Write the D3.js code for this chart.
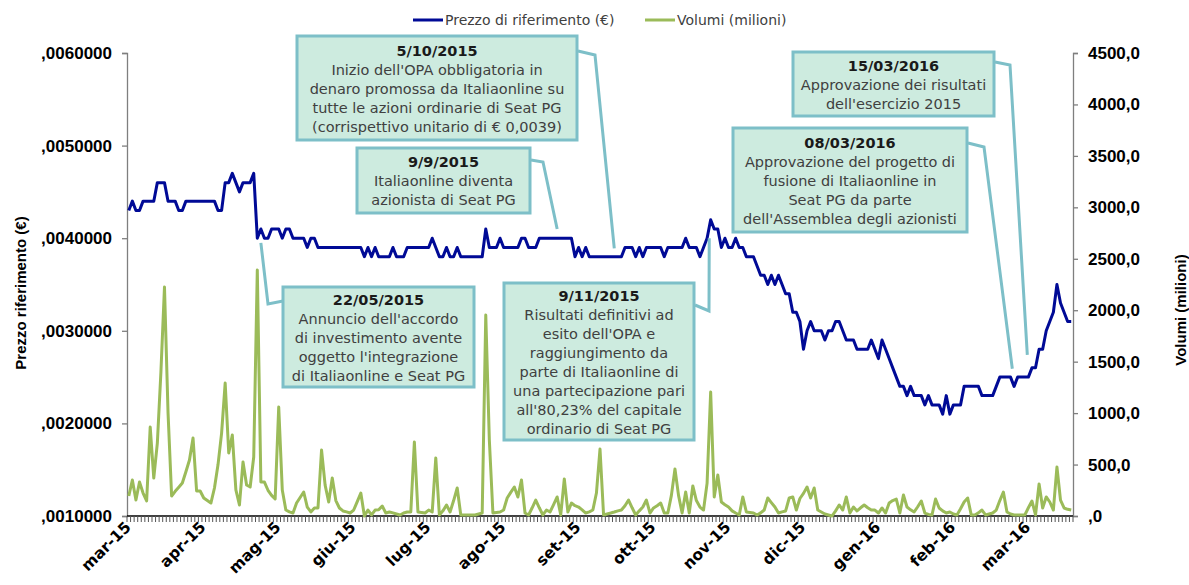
<!DOCTYPE html>
<html>
<head>
<meta charset="utf-8">
<script src="https://cdn.jsdelivr.net/npm/d3@7"></script>
<style>
  body { margin: 0; background: #fff; }
  svg { display: block; }
</style>
</head>
<body>
<div id="chart"></div>
<script>
// Prezzo di riferimento (€), one value per trading day (mar-15 .. mar-16)
const price = [
  0.0043,0.0044,0.0043,0.0043,0.0044,0.0044,0.0044,0.0044,0.0046,0.0046,
  0.0046,0.0044,0.0044,0.0044,0.0043,0.0043,0.0044,0.0044,0.0044,0.0044,
  0.0044,0.0044,0.0044,0.0044,0.0044,0.0043,0.0043,0.0046,0.0046,0.0047,
  0.0046,0.0045,0.0046,0.0046,0.0046,0.0047,0.0040,0.0041,0.0040,0.0040,
  0.0041,0.0041,0.0041,0.0040,0.0041,0.0041,0.0040,0.0040,0.0040,0.0040,
  0.0039,0.0040,0.0040,0.0039,0.0039,0.0039,0.0039,0.0039,0.0039,0.0039,
  0.0039,0.0039,0.0039,0.0039,0.0039,0.0039,0.0038,0.0039,0.0038,0.0039,
  0.0038,0.0038,0.0038,0.0038,0.0039,0.0038,0.0038,0.0038,0.0039,0.0039,
  0.0039,0.0039,0.0039,0.0039,0.0039,0.0040,0.0039,0.0038,0.0038,0.0039,
  0.0038,0.0038,0.0039,0.0038,0.0038,0.0038,0.0038,0.0038,0.0038,0.0038,
  0.0041,0.0039,0.0039,0.0039,0.0040,0.0039,0.0039,0.0039,0.0039,0.0039,
  0.0040,0.0040,0.0039,0.0039,0.0039,0.0040,0.0040,0.0040,0.0040,0.0040,
  0.0040,0.0040,0.0040,0.0040,0.0040,0.0038,0.0039,0.0038,0.0039,0.0038,
  0.0038,0.0038,0.0038,0.0038,0.0038,0.0038,0.0038,0.0038,0.0038,0.0039,
  0.0039,0.0039,0.0038,0.0039,0.0038,0.0039,0.0039,0.0039,0.0039,0.0039,
  0.0038,0.0039,0.0039,0.0039,0.0039,0.0039,0.0040,0.0039,0.0039,0.0039,
  0.0038,0.0039,0.0040,0.0042,0.0041,0.0041,0.0039,0.0040,0.0039,0.0039,
  0.0040,0.0039,0.0039,0.0038,0.0038,0.0038,0.0037,0.0036,0.0036,0.0035,
  0.0036,0.0035,0.0036,0.0035,0.0034,0.0034,0.0032,0.0032,0.0031,0.0028,
  0.0030,0.0031,0.0030,0.0030,0.0030,0.0029,0.0030,0.0030,0.0031,0.0031,
  0.0030,0.0029,0.0029,0.0029,0.0028,0.0028,0.0028,0.0028,0.0029,0.0028,
  0.0027,0.0029,0.0028,0.0027,0.0026,0.0025,0.0024,0.0024,0.0023,0.0024,
  0.0023,0.0023,0.0023,0.0022,0.0023,0.0022,0.0022,0.0022,0.0021,0.0023,
  0.0021,0.0022,0.0022,0.0022,0.0024,0.0024,0.0024,0.0024,0.0024,0.0023,
  0.0023,0.0023,0.0023,0.0024,0.0025,0.0025,0.0025,0.0025,0.0024,0.0025,
  0.0025,0.0025,0.0025,0.0026,0.0026,0.0028,0.0028,0.0030,0.0031,0.0032,
  0.0035,0.0033,0.0032,0.0031,0.0031
];

// Volumi (milioni), same trading days
const volume = [
  194,350,155,330,223,146,865,369,709,1400,
  2226,1000,194,240,280,320,430,544,758,243,
  243,175,150,126,272,500,806,1292,612,787,
  253,107,525,301,282,573,2390,330,330,250,
  200,165,1059,253,58,40,29,126,180,233,
  87,39,78,78,641,300,136,369,150,78,
  49,40,29,58,140,223,0,58,10,58,
  60,97,29,39,30,20,10,29,39,39,
  719,39,35,29,58,39,564,10,50,107,
  39,150,272,10,10,10,10,10,20,29,
  1953,739,30,35,39,58,175,230,282,185,
  350,29,10,80,155,80,10,58,39,110,
  185,10,360,39,126,100,87,60,29,40,
  58,223,651,10,20,29,39,50,58,100,
  155,80,10,50,87,155,29,78,100,126,
  29,29,200,457,200,29,233,29,292,150,
  87,58,320,1205,185,398,136,110,87,50,
  29,10,185,39,35,29,10,30,58,175,
  130,87,29,40,49,175,185,58,170,220,
  282,175,272,58,39,20,10,0,50,107,
  58,185,29,87,49,80,107,80,58,58,
  29,78,29,126,150,165,29,204,87,60,
  39,90,146,29,15,10,165,78,50,29,
  39,20,10,70,136,175,10,10,30,58,
  10,20,29,58,150,233,39,20,10,10,
  10,10,80,146,10,311,78,185,136,58,
  476,155,78,65,58
];

const monthTickIndex = [0, 21, 42, 63, 84, 105, 126, 147, 168, 189, 210, 231, 252];
const monthLabels = ["mar-15", "apr-15", "mag-15", "giu-15", "lug-15", "ago-15", "set-15",
  "ott-15", "nov-15", "dic-15", "gen-16", "feb-16", "mar-16"];
const priceTicks = [0.001, 0.002, 0.003, 0.004, 0.005, 0.006];
const volumeTicks = [0, 500, 1000, 1500, 2000, 2500, 3000, 3500, 4000, 4500];
const seriesNames = ["Prezzo di riferimento (€)", "Volumi (milioni)"];

// event notes: day index + price the leader points at
const noteTitles = ["5/10/2015", "9/9/2015", "22/05/2015", "9/11/2015", "15/03/2016", "08/03/2016"];
const noteLines = [
  ["Inizio dell'OPA obbligatoria in", "denaro promossa da Italiaonline su", "tutte le azioni ordinarie di Seat PG", "(corrispettivo unitario di € 0,0039)"],
  ["Italiaonline diventa", "azionista di Seat PG"],
  ["Annuncio dell'accordo", "di investimento avente", "oggetto l'integrazione", "di Italiaonline e Seat PG"],
  ["Risultati definitivi ad", "esito dell'OPA e", "raggiungimento da", "parte di Italiaonline di", "una partecipazione pari", "all'80,23% del capitale", "ordinario di Seat PG"],
  ["Approvazione dei risultati", "dell'esercizio 2015"],
  ["Approvazione del progetto di", "fusione di Italiaonline in", "Seat PG da parte", "dell'Assemblea degli azionisti"]
];
const noteDay = [136, 120, 37, 162.6, 251.7, 247.5];
const notePrice = [0.00389, 0.0041, 0.00395, 0.0040, 0.00274, 0.00259];

// box layout (pixels)
const noteLayout = [
  { x: 297, y: 36, w: 280, h: 104, start: [578, 51], elbow: [595, 55] },
  { x: 357, y: 148, w: 173, h: 65, start: [531, 160], elbow: [543, 162] },
  { x: 283, y: 287, w: 191, h: 100, start: [283, 301], elbow: [268, 304] },
  { x: 504, y: 283, w: 190, h: 157, start: [695, 305], elbow: [709, 311] },
  { x: 793, y: 52, w: 201, h: 64, start: [995, 62], elbow: [1010, 65] },
  { x: 733, y: 128, w: 234, h: 104, start: [968, 143], elbow: [984, 147] }
];

const W = 1189, H = 585;
const plot = { left: 127, right: 1073, top: 53, bottom: 516 };
const N = price.length;

const svg = d3.select("#chart").append("svg")
  .attr("width", W)
  .attr("height", H);

const x = d3.scaleLinear()
  .domain([-0.5, N - 0.5])
  .range([plot.left, plot.right]);

const yP = d3.scaleLinear()
  .domain([0.001, 0.006])
  .range([plot.bottom, plot.top]);

const yV = d3.scaleLinear()
  .domain([0, 4500])
  .range([plot.bottom, plot.top]);

const blue = "#000A96";
const green = "#9BBB59";
const axisFont = "'Liberation Sans', Arial, sans-serif";
const textFont = "'DejaVu Sans', sans-serif";

const fmtPrice = v => v.toFixed(7).replace(/^0\./, ",");
const fmtVol = v => v === 0 ? ",0" : v.toFixed(1).replace(".", ",");

// left axis
const leftAxis = svg.append("g")
  .attr("transform", `translate(${plot.left},0)`)
  .call(d3.axisLeft(yP).tickValues(priceTicks).tickFormat(fmtPrice).tickSize(5).tickPadding(10));

// right axis
const rightAxis = svg.append("g")
  .attr("transform", `translate(${plot.right},0)`)
  .call(d3.axisRight(yV).tickValues(volumeTicks).tickFormat(fmtVol).tickSize(5).tickPadding(10));

[leftAxis, rightAxis].forEach(g => {
  g.select(".domain").attr("stroke", "#7f7f7f").attr("stroke-width", 1.3);
  g.selectAll(".tick line").attr("stroke", "#7f7f7f").attr("stroke-width", 1.3);
  g.selectAll(".tick text")
    .attr("fill", "#000")
    .style("font-family", axisFont)
    .style("font-weight", "bold")
    .style("font-size", "17px");
});

// bottom axis: one small tick per trading day
const bottom = svg.append("g");
bottom.append("line")
  .attr("x1", plot.left).attr("x2", plot.right)
  .attr("y1", plot.bottom).attr("y2", plot.bottom)
  .attr("stroke", "#000").attr("stroke-width", 1.3);

bottom.selectAll("line.day")
  .data(d3.range(N + 1))
  .enter()
  .append("line")
  .attr("class", "day")
  .attr("x1", d => x(d - 0.5))
  .attr("x2", d => x(d - 0.5))
  .attr("y1", plot.bottom)
  .attr("y2", plot.bottom + 6)
  .attr("stroke", "#555")
  .attr("stroke-width", 1);

bottom.selectAll("text.month")
  .data(monthTickIndex)
  .enter()
  .append("text")
  .attr("class", "month")
  .attr("text-anchor", "end")
  .attr("transform", d => `translate(${x(d) + 3},${plot.bottom + 12}) rotate(-45)`)
  .style("font-family", textFont)
  .style("font-weight", "bold")
  .style("font-size", "15.5px")
  .attr("fill", "#000")
  .text((d, i) => monthLabels[i]);

// axis titles
svg.append("text")
  .attr("text-anchor", "middle")
  .attr("transform", `translate(26,293) rotate(-90)`)
  .style("font-family", axisFont)
  .style("font-weight", "bold")
  .style("font-size", "15px")
  .text("Prezzo riferimento (€)");

svg.append("text")
  .attr("text-anchor", "middle")
  .attr("transform", `translate(1186,310) rotate(-90)`)
  .style("font-family", axisFont)
  .style("font-weight", "bold")
  .style("font-size", "15px")
  .text("Volumi (milioni)");

// series
svg.append("path")
  .datum(volume)
  .attr("fill", "none")
  .attr("stroke", green)
  .attr("stroke-width", 3)
  .attr("stroke-linejoin", "round")
  .attr("d", d3.line().x((d, i) => x(i)).y(d => yV(d)));

svg.append("path")
  .datum(price)
  .attr("fill", "none")
  .attr("stroke", blue)
  .attr("stroke-width", 3)
  .attr("stroke-linejoin", "round")
  .attr("d", d3.line().x((d, i) => x(i)).y(d => yP(d)));

// annotations
const noteFill = "#CDEBDF";
const noteStroke = "#7DBFC8";

noteTitles.forEach((title, k) => {
  const L = noteLayout[k];
  const g = svg.append("g");

  g.append("polyline")
    .attr("points", [L.start, L.elbow, [x(noteDay[k]), yP(notePrice[k])]].map(p => p.join(",")).join(" "))
    .attr("fill", "none")
    .attr("stroke", noteStroke)
    .attr("stroke-width", 3);

  g.append("rect")
    .attr("x", L.x).attr("y", L.y)
    .attr("width", L.w).attr("height", L.h)
    .attr("fill", noteFill)
    .attr("stroke", noteStroke)
    .attr("stroke-width", 3);

  const lines = [title].concat(noteLines[k]);
  const top = L.y + (L.h - lines.length * 19) / 2 + 15;
  lines.forEach((t, j) => {
    g.append("text")
      .attr("x", L.x + L.w / 2)
      .attr("y", top + j * 19)
      .attr("text-anchor", "middle")
      .style("font-family", textFont)
      .style("font-size", "14.5px")
      .style("font-weight", j === 0 ? "bold" : "normal")
      .attr("fill", j === 0 ? "#1a1a1a" : "#404040")
      .text(t);
  });
});

// legend
const legend = svg.append("g");
[blue, green].forEach((c, k) => {
  const lx = k === 0 ? 413 : 645;
  legend.append("line")
    .attr("x1", lx).attr("x2", lx + 30)
    .attr("y1", 20).attr("y2", 20)
    .attr("stroke", c)
    .attr("stroke-width", 3);
  legend.append("text")
    .attr("x", lx + 32)
    .attr("y", 25)
    .style("font-family", textFont)
    .style("font-size", "14px")
    .attr("fill", "#404040")
    .text(seriesNames[k]);
});
</script>
</body>
</html>
